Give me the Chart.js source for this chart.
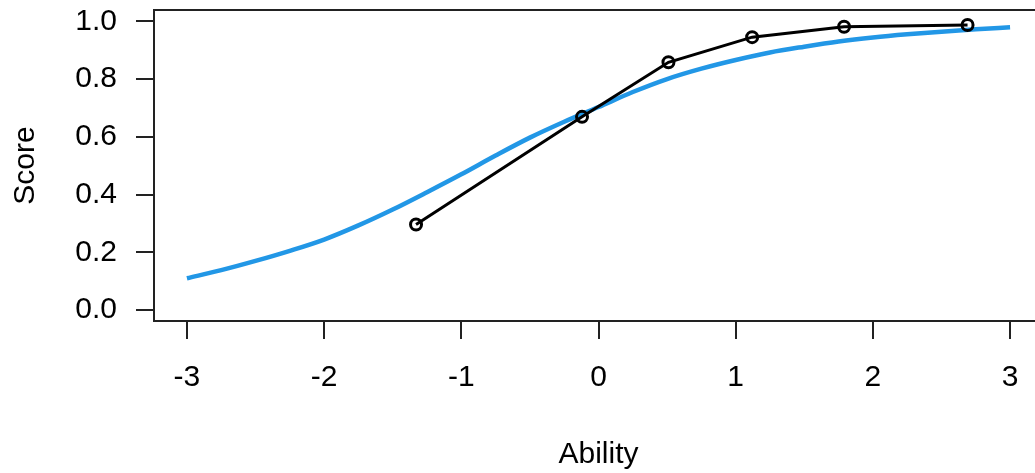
<!DOCTYPE html>
<html>
<head>
<meta charset="utf-8">
<script src="https://cdn.jsdelivr.net/npm/chart.js@4.4.1/dist/chart.umd.min.js"></script>
<style>
  html, body { margin: 0; padding: 0; background: #fff; overflow: hidden; }
  #wrap { width: 1060px; height: 473px; }
</style>
</head>
<body>
<div id="wrap"><canvas id="irtChart" width="1060" height="473"></canvas></div>
<script>
// model curve (blue)
const curveAbility = [-3, -2.75, -2.5, -2.25, -2, -1.75, -1.5, -1.25, -1, -0.75, -0.5, -0.25,
                      0, 0.25, 0.5, 0.75, 1, 1.25, 1.5, 1.75, 2, 2.25, 2.5, 2.75, 3];
const curveScore = [0.110, 0.138, 0.170, 0.205, 0.244, 0.293, 0.348, 0.408, 0.470, 0.535, 0.597, 0.652,
                    0.703, 0.755, 0.800, 0.836, 0.866, 0.892, 0.912, 0.930, 0.944, 0.955, 0.964, 0.972, 0.979];

// observed group means (black)
const obsAbility = [-1.33, -0.12, 0.51, 1.12, 1.79, 2.69];
const obsScore = [0.296, 0.669, 0.858, 0.945, 0.981, 0.987];

const xTicks = [-3, -2, -1, 0, 1, 2, 3];
const yTicks = [0, 0.2, 0.4, 0.6, 0.8, 1.0];

const FONT = '"Liberation Sans", Arial, sans-serif';
const INK = '#222';

// R style box round the plot region
const boxPlugin = {
    id: 'box',
    afterDatasetsDraw(chart) {
        const a = chart.chartArea;
        const ctx = chart.ctx;
        ctx.save();
        ctx.strokeStyle = INK;
        ctx.lineWidth = 2;
        ctx.strokeRect(a.left, a.top, a.right - a.left, a.bottom - a.top);
        ctx.restore();
    }
};

var ctx = document.getElementById("irtChart");
var irtChart = new Chart(ctx, {
    type: 'line',
    data: {
        datasets: [
            {
                label: "Observed",
                data: obsAbility.map((v, i) => ({x: v, y: obsScore[i]})),
                borderColor: '#000',
                borderWidth: 3,
                tension: 0,
                pointRadius: 5.5,
                pointBorderWidth: 3,
                pointBorderColor: '#000',
                pointBackgroundColor: 'rgba(0,0,0,0)'
            },
            {
                label: "Model",
                data: curveAbility.map((v, i) => ({x: v, y: curveScore[i]})),
                borderColor: '#2297E6',
                borderWidth: 4.5,
                cubicInterpolationMode: 'monotone',
                pointRadius: 0
            }
        ]
    },
    options: {
        responsive: false,
        animation: false,
        layout: {
            padding: {left: 0, top: 10, right: 17, bottom: 0}
        },
        plugins: {
            legend: {display: false},
            tooltip: {enabled: false}
        },
        scales: {
            x: {
                type: 'linear',
                min: -3.24,
                max: 3.24,
                afterBuildTicks: (s) => { s.ticks = xTicks.map(v => ({value: v})); },
                afterFit: (s) => { s.height = 152; s.paddingLeft = 0; s.paddingRight = 0; },
                border: {display: false},
                grid: {
                    drawOnChartArea: false,
                    drawTicks: true,
                    tickLength: 18,
                    tickColor: INK,
                    lineWidth: 2
                },
                ticks: {
                    color: '#000',
                    padding: 24,
                    maxRotation: 0,
                    font: {family: FONT, size: 30, lineHeight: 1},
                    callback: (v) => String(v)
                },
                title: {
                    display: true,
                    text: 'Ability',
                    color: '#000',
                    font: {family: FONT, size: 30, lineHeight: 1},
                    padding: {top: 0, bottom: 3}
                }
            },
            y: {
                type: 'linear',
                min: -0.038,
                max: 1.039,
                afterBuildTicks: (s) => { s.ticks = yTicks.map(v => ({value: v})); },
                afterFit: (s) => { s.width = 154; s.paddingTop = 0; s.paddingBottom = 0; },
                border: {display: false},
                grid: {
                    drawOnChartArea: false,
                    drawTicks: true,
                    tickLength: 18,
                    tickColor: INK,
                    lineWidth: 2
                },
                ticks: {
                    color: '#000',
                    padding: 19,
                    font: {family: FONT, size: 30, lineHeight: 1},
                    callback: (v) => v.toFixed(1)
                },
                title: {
                    display: true,
                    text: 'Score',
                    color: '#000',
                    font: {family: FONT, size: 30, lineHeight: 1},
                    padding: {top: 11, bottom: 0}
                }
            }
        }
    },
    plugins: [boxPlugin]
});
</script>
</body>
</html>
